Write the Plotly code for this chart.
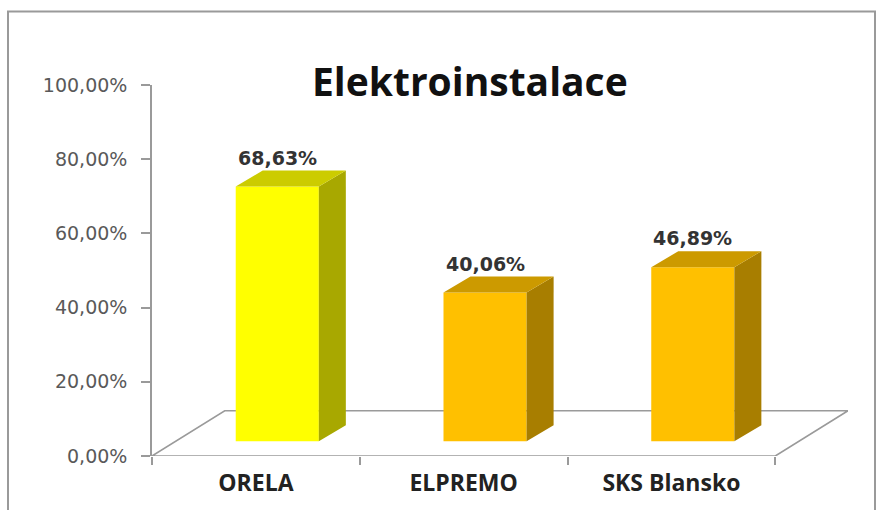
import plotly.graph_objects as go

# ---- data ----
categories = ["ORELA", "ELPREMO", "SKS Blansko"]
values = [68.63, 40.06, 46.89]
value_labels = ["68,63%", "40,06%", "46,89%"]
y_ticks = [0, 20, 40, 60, 80, 100]
y_tick_labels = ["0,00%", "20,00%", "40,00%", "60,00%", "80,00%", "100,00%"]
title_text = "Elektroinstalace"

front_colors = ["#FFFF00", "#FFC000", "#FFC000"]
side_colors = ["#A8A800", "#A87E00", "#A87E00"]
top_colors = ["#CCCC00", "#CC9A00", "#CC9A00"]

# ---- 3D geometry (styling, in axis units) ----
base = 4.0          # bars stand back on the floor
bar_shift = 0.103   # horizontal shift of bar due to depth
bar_w = 0.40
dx, dy = 0.13, 4.3  # bar depth
fdx, fdy = 0.35, 12.2  # floor depth
n = len(categories)

fig = go.Figure()

# floor (as a shape below the traces)
fx = [-0.5, n - 0.5, n - 0.5 + fdx, -0.5 + fdx]
fy = [0, 0, fdy, fdy]
path = "M " + " L ".join(f"{a},{b}" for a, b in zip(fx, fy)) + " Z"
fig.add_shape(type="path", path=path, xref="x", yref="y", layer="below",
              line=dict(color="#9a9a9a", width=1.6), fillcolor="rgba(0,0,0,0)")

# front faces
xs = [i + bar_shift for i in range(n)]
fig.add_trace(go.Bar(x=xs, y=values, base=[base] * n, width=bar_w,
                     marker=dict(color=front_colors, line=dict(width=0)),
                     hoverinfo="skip", showlegend=False))

# side and top faces
for i, v in enumerate(values):
    xl = xs[i] - bar_w / 2
    xr = xs[i] + bar_w / 2
    top = base + v
    fig.add_trace(go.Scatter(
        x=[xr, xr + dx, xr + dx, xr, xr],
        y=[base, base + dy, top + dy, top, base],
        fill="toself", fillcolor=side_colors[i], mode="lines",
        line=dict(width=0, color=side_colors[i]),
        hoverinfo="skip", showlegend=False))
    fig.add_trace(go.Scatter(
        x=[xl, xl + dx, xr + dx, xr, xl],
        y=[top, top + dy, top + dy, top, top],
        fill="toself", fillcolor=top_colors[i], mode="lines",
        line=dict(width=0, color=top_colors[i]),
        hoverinfo="skip", showlegend=False))
    fig.add_annotation(x=xs[i], y=top, text=value_labels[i], showarrow=False,
                       yshift=29, yanchor="middle",
                       font=dict(family="DejaVu Sans", size=19, color="#333333", weight="bold"))

# title
fig.add_annotation(xref="paper", yref="paper", x=0.457, y=1.013,
                   text="<b>" + title_text + "</b>", showarrow=False,
                   xanchor="center", yanchor="middle",
                   font=dict(family="Open Sans", size=39, color="#111111"))

# outer border
fig.add_shape(type="rect", xref="paper", yref="paper",
              x0=-0.2069, x1=1.0388, y0=-0.16, y1=1.198,
              line=dict(color="#9a9a9a", width=2), fillcolor="rgba(0,0,0,0)")

fig.update_layout(
    width=877, height=510,
    margin=dict(l=152, r=29, t=85, b=52),
    paper_bgcolor="white", plot_bgcolor="white",
    hovermode=False, showlegend=False,
    xaxis=dict(range=[-0.5, n - 0.5 + fdx], tickvals=list(range(n)), ticktext=categories,
               showline=False, showgrid=False, zeroline=False, ticks="",
               ticklabelstandoff=11,
               tickfont=dict(family="Open Sans", size=23, color="#222222", weight="bold"),
               minor=dict(tickvals=[i - 0.5 for i in range(n + 1)], ticks="outside",
                          ticklen=8, tickcolor="#9a9a9a", tickwidth=1.5, showgrid=False)),
    yaxis=dict(range=[0, 100], tickvals=y_ticks, ticktext=y_tick_labels,
               showline=True, linecolor="#9a9a9a", linewidth=1.6,
               ticks="outside", ticklen=9, tickcolor="#9a9a9a", tickwidth=1.5,
               showgrid=False, zeroline=False, ticklabelstandoff=10,
               tickfont=dict(family="DejaVu Sans", size=19, color="#595959")),
)

fig.write_html("out.html")
